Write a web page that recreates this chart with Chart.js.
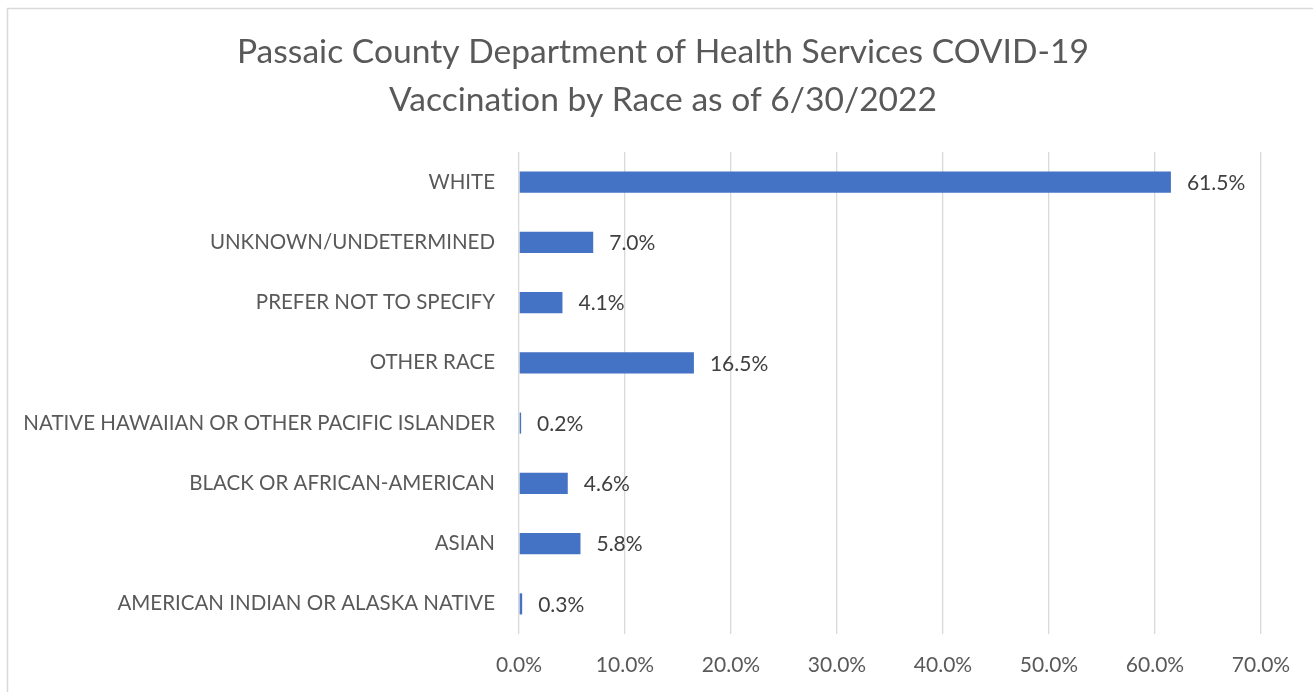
<!DOCTYPE html>
<html>
<head>
<meta charset="utf-8">
<script src="https://cdn.jsdelivr.net/npm/chart.js@4"></script>
<style>
  html, body { margin: 0; padding: 0; background: #ffffff; }
  #wrap { width: 1313px; height: 692px; position: relative; }
</style>
</head>
<body>
<div id="wrap"><canvas id="c" width="1313" height="692"></canvas></div>
<script>
const titleLines = ["Passaic County Department of Health Services COVID-19", "Vaccination by Race as of 6/30/2022"];
const categories = [
  "WHITE",
  "UNKNOWN/UNDETERMINED",
  "PREFER NOT TO SPECIFY",
  "OTHER RACE",
  "NATIVE HAWAIIAN OR OTHER PACIFIC ISLANDER",
  "BLACK OR AFRICAN-AMERICAN",
  "ASIAN",
  "AMERICAN INDIAN OR ALASKA NATIVE"
];
const percentValues = [61.5, 7.0, 4.1, 16.5, 0.2, 4.6, 5.8, 0.3];
const xTickMin = 0;
const xTickMax = 70;
const xTickStep = 10;

const FONT = "Lato, 'Open Sans', sans-serif";

const frameAndTitle = {
  id: 'frameAndTitle',
  beforeDraw(chart) {
    const ctx = chart.ctx;
    ctx.save();
    ctx.strokeStyle = '#D9D9D9';
    ctx.lineWidth = 1.5;
    ctx.strokeRect(7.5, 8.5, 1400, 800);
    ctx.restore();
  },
  afterDraw(chart) {
    const ctx = chart.ctx;
    ctx.save();
    ctx.fillStyle = '#595959';
    ctx.font = "33.6px " + FONT;
    if ('letterSpacing' in ctx) ctx.letterSpacing = '0.01px';
    ctx.textAlign = 'center';
    ctx.textBaseline = 'middle';
    ctx.fillText(titleLines[0], 663, 52);
    ctx.fillText(titleLines[1], 663, 100);
    ctx.restore();
  }
};

const dataLabels = {
  id: 'dataLabels',
  afterDatasetsDraw(chart) {
    const ctx = chart.ctx;
    const meta = chart.getDatasetMeta(0);
    ctx.save();
    ctx.fillStyle = '#404040';
    ctx.font = "21px " + FONT;
    ctx.textAlign = 'left';
    ctx.textBaseline = 'middle';
    meta.data.forEach((bar, i) => {
      ctx.fillText(percentValues[i].toFixed(1) + '%', bar.x + 16, bar.y + 1);
    });
    ctx.restore();
  }
};

new Chart(document.getElementById('c'), {
  type: 'bar',
  data: {
    labels: categories,
    datasets: [{
      data: percentValues,
      backgroundColor: '#4472C4',
      borderWidth: 0,
      barPercentage: 0.35,
      categoryPercentage: 1.0
    }]
  },
  options: {
    indexAxis: 'y',
    responsive: false,
    animation: false,
    devicePixelRatio: 1,
    layout: { padding: { top: 152, left: 0, right: 0, bottom: 0 } },
    plugins: {
      legend: { display: false },
      title: { display: false },
      tooltip: { enabled: false }
    },
    scales: {
      x: {
        min: xTickMin,
        max: xTickMax,
        ticks: {
          stepSize: xTickStep,
          color: '#595959',
          font: { family: FONT, size: 21 },
          padding: 19,
          maxRotation: 0,
          callback: v => v.toFixed(1) + '%'
        },
        grid: { color: '#D9D9D9', lineWidth: 1.3, drawTicks: false },
        border: { display: false },
        afterFit(scale) { scale.height = 692 - 634; scale.paddingRight = 52; }
      },
      y: {
        ticks: {
          color: '#595959',
          font: { family: FONT, size: 20.5 },
          padding: 24,
          autoSkip: false
        },
        grid: { display: false, drawTicks: false },
        border: { display: false },
        afterFit(scale) { scale.width = 519; }
      }
    }
  },
  plugins: [frameAndTitle, dataLabels]
});
</script>
</body>
</html>
